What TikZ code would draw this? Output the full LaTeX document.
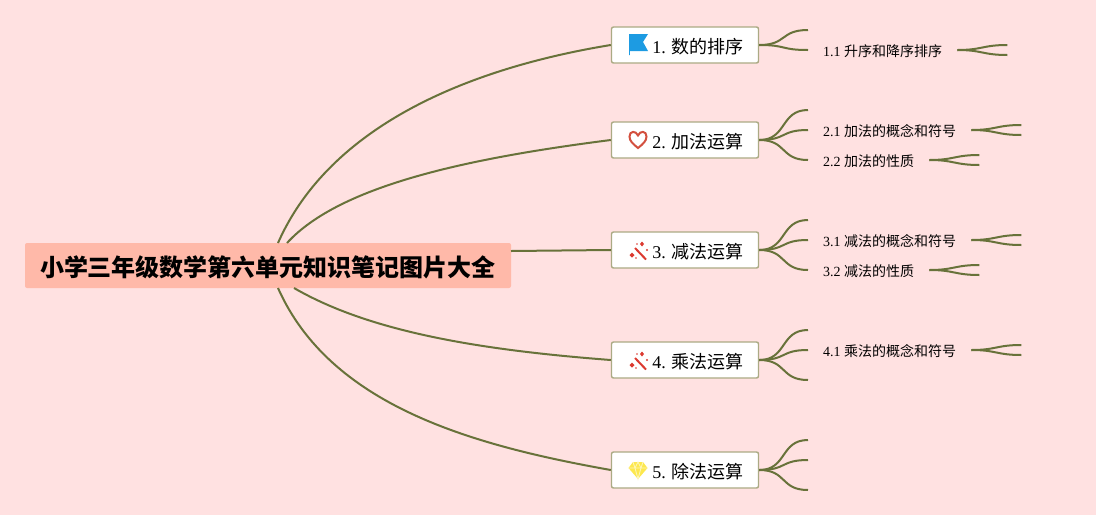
\documentclass[tikz,border=0pt]{standalone}
\usepackage{fontspec}
\usetikzlibrary{calc}
\setmainfont{Liberation Serif}
\newfontfamily\cjk{Noto Sans CJK SC}
\definecolor{bgpink}{HTML}{FFE1E1}
\definecolor{rootpink}{HTML}{FFB9A9}
\definecolor{olive}{HTML}{68723A}
\definecolor{boxedge}{HTML}{ABAA84}
\definecolor{flagblue}{HTML}{1D9BE2}
\definecolor{iconred}{HTML}{D3503F}
\definecolor{wandred}{HTML}{DC3A30}
\definecolor{gemyellow}{HTML}{FDE84E}
\tikzset{
  rootbox/.style={fill=rootpink,rounded corners=2pt,minimum width=486pt,minimum height=45pt,inner sep=0pt,text height=25pt,text depth=3pt,font=\fontsize{24}{24}\selectfont\cjk\bfseries},
  topicbox/.style={draw=boxedge,line width=.5mm,fill=white,rounded corners=2pt,minimum width=147pt,minimum height=36pt,inner sep=0pt,text height=19pt,text depth=2pt,font=\fontsize{18}{18}\selectfont},
  subtext/.style={anchor=west,inner xsep=15pt,inner ysep=0pt,text height=14pt,text depth=1.4pt,font=\fontsize{14}{14}\selectfont},
  branch/.style={draw=olive,line width=2pt},
  wandicon/.pic={
    \draw[wandred,line width=2pt] (-3,-2) -- (8,9.5);
    \fill[wandred] (-6,2.5) -- (-3.5,5) -- (-6,7.5) -- (-8.5,5) -- cycle;
    \fill[wandred] (4,-8.5) -- (6,-6) -- (4,-3.5) -- (2,-6) -- cycle;
    \fill[wandred] (9,0) circle (1.1pt) (-2,8) circle (.9pt) (-1,-6) circle (.8pt);
  },
  flagicon/.pic={
    \fill[flagblue] (-9,-11) -- (10,-11) -- (5,-3) -- (10,6) -- (-8.2,6) -- (-8.2,10) -- (-9,10) -- cycle;
  },
  hearticon/.pic={
    \draw[iconred,line width=2pt] (0,8) .. controls (-5,4) and (-8.5,1) .. (-8.5,-3.5) .. controls (-8.5,-9.5) and (-2,-9.5) .. (0,-4.5) .. controls (2,-9.5) and (8.5,-9.5) .. (8.5,-3.5) .. controls (8.5,1) and (5,4) .. (0,8) -- cycle;
  },
  gemicon/.pic={
    \fill[gemyellow] (-5,-8) -- (5,-8) -- (9.5,-2) -- (0,9) -- (-9.5,-2) -- cycle;
    \draw[white!60!gemyellow,line width=.3mm] (-9.5,-2) -- (9.5,-2) (-3,-2) -- (0,9) -- (3,-2) (-5,-8) -- (-3,-2) -- (0,-8) -- (3,-2) -- (5,-8);
  }
}
\begin{document}
\begin{tikzpicture}[x=1pt,y=-1pt]
\useasboundingbox[fill=bgpink] (0,0) rectangle (1096,515);
\node[rootbox] (root) at (268,265.5) {小学三年级数学第六单元知识笔记图片大全};
\node[topicbox] (t1) at (685,45) {\hspace{26pt}1. {\cjk 数的排序}};
\node[topicbox] (t2) at (685,140) {\hspace{26pt}2. {\cjk 加法运算}};
\node[topicbox] (t3) at (685,250) {\hspace{26pt}3. {\cjk 减法运算}};
\node[topicbox] (t4) at (685,360) {\hspace{26pt}4. {\cjk 乘法运算}};
\node[topicbox] (t5) at (685,470) {\hspace{26pt}5. {\cjk 除法运算}};
\pic at (638,45) {flagicon};
\pic at (638,140) {hearticon};
\pic at (638,250) {wandicon};
\pic at (638,360) {wandicon};
\pic at (638,470) {gemicon};
\node[subtext] (s11) at (808,50) {1.1 {\cjk 升序和降序排序}};
\node[subtext] (s21) at (808,130) {2.1 {\cjk 加法的概念和符号}};
\node[subtext] (s22) at (808,160) {2.2 {\cjk 加法的性质}};
\node[subtext] (s31) at (808,240) {3.1 {\cjk 减法的概念和符号}};
\node[subtext] (s32) at (808,270) {3.2 {\cjk 减法的性质}};
\node[subtext] (s41) at (808,350) {4.1 {\cjk 乘法的概念和符号}};
% root to topics
\coordinate (rootup1) at (278,243);
\coordinate (rootup2) at (287,243);
\coordinate (rootright) at (511,251);
\coordinate (rootdown1) at (294,288);
\coordinate (rootdown2) at (278,288);
\draw[branch] (rootup1) .. controls (330,125) and (470,68) .. (t1.west);
\draw[branch] (rootup2) .. controls (340,185) and (470,158) .. (t2.west);
\draw[branch] (rootright) -- (t3.west);
\draw[branch] (rootdown1) .. controls (370,332) and (480,350) .. (t4.west);
\draw[branch] (rootdown2) .. controls (330,405) and (470,445) .. (t5.west);
% topics to subtopics
\coordinate (e1) at (808,30);
\coordinate (e2) at (808,110);
\coordinate (e3) at (808,220);
\coordinate (e4) at (808,330);
\coordinate (e5) at (808,380);
\coordinate (e6) at (808,440);
\coordinate (e7) at (808,460);
\coordinate (e8) at (808,490);
\foreach \from/\to in {t1/e1,t1/s11,t2/e2,t2/s21,t2/s22,t3/e3,t3/s31,t3/s32,t4/e4,t4/s41,t4/e5,t5/e6,t5/e7,t5/e8}{
  \draw[branch] (\from.east) .. controls +(28,0) and +(-28,0) .. (\to.west |- \to);
}
% free ends of the subtopics
\foreach \from in {s11,s21,s22,s31,s32,s41}{
  \coordinate (\from up) at ($(\from.east)+(50,-5)$);
  \coordinate (\from down) at ($(\from.east)+(50,5)$);
  \draw[branch] (\from.east) .. controls ($(\from.east)+(25,0)$) and ($(\from.east)+(25,-5)$) .. (\from up);
  \draw[branch] (\from.east) .. controls ($(\from.east)+(25,0)$) and ($(\from.east)+(25,5)$) .. (\from down);
}
\end{tikzpicture}
\end{document}
